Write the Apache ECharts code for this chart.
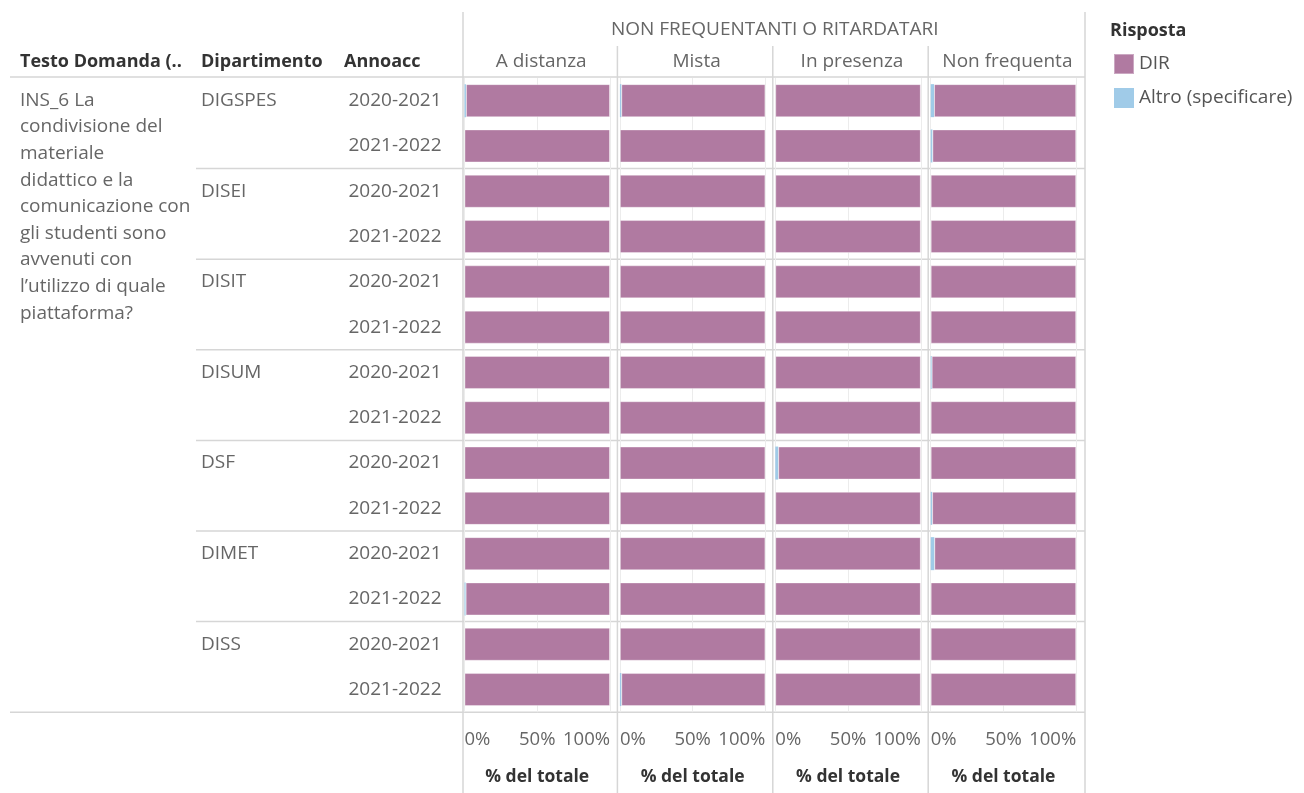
<!DOCTYPE html>
<html>
<head>
<meta charset="utf-8">
<script src="https://cdn.jsdelivr.net/npm/echarts@6/dist/echarts.min.js"></script>
<style>
  html, body { margin: 0; padding: 0; background: #fff; }
  #chart { width: 1304px; height: 793px; }
</style>
</head>
<body>
<div id="chart"></div>
<script>
// --- data (percent of total per row) ---
const departments = ['DIGSPES', 'DISEI', 'DISIT', 'DISUM', 'DSF', 'DIMET', 'DISS'];
const years = ['2020-2021', '2021-2022'];
const panels = ['A distanza', 'Mista', 'In presenza', 'Non frequenta'];
const groupTitle = 'NON FREQUENTANTI O RITARDATARI';
const question = 'INS_6 La\ncondivisione del\nmateriale\ndidattico e la\ncomunicazione con\ngli studenti sono\navvenuti con\nl\u2019utilizzo di quale\npiattaforma?';
const xTicks = [0, 50, 100];

// rows: DIGSPES 20/21, DIGSPES 21/22, DISEI ..., DISS 21/22
const altroDistanza = [1.0, 0, 0, 0, 0, 0, 0, 0, 0, 0, 0, 0.8, 0, 0];
const altroMista    = [1.0, 0, 0, 0, 0, 0, 0, 0, 0, 0, 0, 0, 0, 1.0];
const altroPresenza = [0, 0, 0, 0, 0, 0, 0, 0, 2.0, 0, 0, 0, 0, 0];
const altroNonFreq  = [2.3, 1.2, 0, 0, 0, 0, 0.7, 0, 0, 1.0, 2.5, 0, 0, 0];

const dirDistanza = [99.0, 100, 100, 100, 100, 100, 100, 100, 100, 100, 100, 99.2, 100, 100];
const dirMista    = [99.0, 100, 100, 100, 100, 100, 100, 100, 100, 100, 100, 100, 100, 99.0];
const dirPresenza = [100, 100, 100, 100, 100, 100, 100, 100, 98.0, 100, 100, 100, 100, 100];
const dirNonFreq  = [97.7, 98.8, 100, 100, 100, 100, 99.3, 100, 100, 99.0, 97.5, 100, 100, 100];

const altroByPanel = [altroDistanza, altroMista, altroPresenza, altroNonFreq];
const dirByPanel = [dirDistanza, dirMista, dirPresenza, dirNonFreq];

// --- layout ---
const FONT = '"Open Sans"';
const FS = 19;
const TXT = '#666';
const HEAD = '#333';
const LINE = '#d6d6d6';
const COL_DIR = '#b07aa1';
const COL_ALTRO = '#a0cbe8';

const plotTop = 78, plotBottom = 712.2;
const panelW = 145.5, panelPitch = 155.4, firstLeft = 464.5;
const rightEdge = 1085;
const rowH = (plotBottom - plotTop) / (departments.length * years.length);

const rowKeys = [];
departments.forEach(d => years.forEach(y => rowKeys.push(d + '|' + y)));

const panelLeft = i => firstLeft + i * panelPitch;

const grids = panels.map((p, i) => ({
  left: panelLeft(i), top: plotTop, width: panelW, height: plotBottom - plotTop
}));

const xAxes = panels.map((p, i) => ({
  type: 'value', gridIndex: i, min: 0, max: 100, interval: 50,
  axisLine: { show: false }, axisTick: { show: false },
  splitLine: { lineStyle: { color: '#ececec', width: 1 } },
  axisLabel: {
    formatter: v => xTicks.indexOf(v) >= 0 ? v + '%' : '',
    color: TXT, fontFamily: FONT, fontSize: 18.5, margin: 18,
    alignMinLabel: 'left', alignMaxLabel: 'right'
  },
  name: '% del totale', nameLocation: 'middle', nameGap: 56,
  nameTextStyle: { color: HEAD, fontFamily: FONT, fontSize: 17.5, fontWeight: 'bold' }
}));

const yAxes = panels.map((p, i) => ({
  type: 'category', gridIndex: i, data: rowKeys, inverse: true, position: 'left',
  axisLine: { show: false }, axisTick: { show: false }, splitLine: { show: false },
  axisLabel: {
    show: i === 0, formatter: v => v.split('|')[1], margin: 23,
    color: TXT, fontFamily: FONT, fontSize: FS
  }
}));
// department labels, on the first row of each group only
yAxes.push({
  type: 'category', gridIndex: 0, data: rowKeys, inverse: true, position: 'left',
  axisLine: { show: false }, axisTick: { show: false }, splitLine: { show: false },
  axisLabel: {
    interval: 0, align: 'left', margin: firstLeft - 201,
    formatter: v => v.split('|')[1] === years[0] ? v.split('|')[0] : '',
    color: TXT, fontFamily: FONT, fontSize: FS
  }
});

const series = [];
panels.forEach((p, i) => {
  series.push({
    name: 'Altro (specificare)', type: 'bar', stack: 'p' + i,
    xAxisIndex: i, yAxisIndex: i, barWidth: 33,
    itemStyle: { color: COL_ALTRO },
    data: altroByPanel[i]
  });
  series.push({
    name: 'DIR', type: 'bar', stack: 'p' + i,
    xAxisIndex: i, yAxisIndex: i, barWidth: 33,
    itemStyle: { color: COL_DIR, borderColor: 'rgba(255,255,255,0.35)', borderWidth: 1 },
    data: dirByPanel[i]
  });
});

// table rules and header text
const g = [];
const hline = (x1, x2, y) => g.push({ type: 'line', silent: true, z: 0,
  shape: { x1: x1, y1: y, x2: x2, y2: y }, style: { stroke: LINE, lineWidth: 1.5 } });
const vline = (x, y1, y2) => g.push({ type: 'line', silent: true, z: 0,
  shape: { x1: x, y1: y1, x2: x, y2: y2 }, style: { stroke: LINE, lineWidth: 1.5 } });
const text = (t, x, y, opt) => g.push({ type: 'text', silent: true, x: x, y: y,
  style: Object.assign({ text: t, fill: TXT, font: FS + 'px ' + FONT, textVerticalAlign: 'middle' }, opt) });
const bold = 'bold 18px ' + FONT;

hline(10, rightEdge, plotTop - 1);
for (let k = 1; k < departments.length; k++) hline(196, rightEdge, plotTop + k * rowH * years.length);
hline(10, rightEdge, plotBottom);
vline(firstLeft - 1.5, 12, 793);
vline(rightEdge, 12, 793);
for (let i = 1; i < panels.length; i++) vline(panelLeft(i) - 2.5, 46, 793);

text(groupTitle, (firstLeft + rightEdge) / 2, 30, { textAlign: 'center' });
panels.forEach((p, i) => text(p, panelLeft(i) + (panelPitch - 2) / 2, 62, { textAlign: 'center' }));
text('Testo Domanda (..', 20, 62, { fill: HEAD, font: bold });
text('Dipartimento', 201, 62, { fill: HEAD, font: bold });
text('Annoacc', 344, 62, { fill: HEAD, font: bold });
text('Risposta', 1110, 31, { fill: HEAD, font: bold });
g.push({ type: 'text', silent: true, x: 20, y: plotTop + rowH / 2 - 13.5,
  style: { text: question, fill: TXT, font: FS + 'px ' + FONT, lineHeight: 26.6, textVerticalAlign: 'top' } });

const chart = echarts.init(document.getElementById('chart'), null, { renderer: 'canvas' });
chart.setOption({
  animation: false,
  grid: grids,
  xAxis: xAxes,
  yAxis: yAxes,
  legend: {
    data: ['DIR', 'Altro (specificare)'], orient: 'vertical', left: 1108, top: 48,
    icon: 'rect', itemWidth: 20, itemHeight: 20, itemGap: 13, selectedMode: false,
    textStyle: { color: '#555', fontFamily: FONT, fontSize: FS }
  },
  series: series,
  graphic: g
});
</script>
</body>
</html>
